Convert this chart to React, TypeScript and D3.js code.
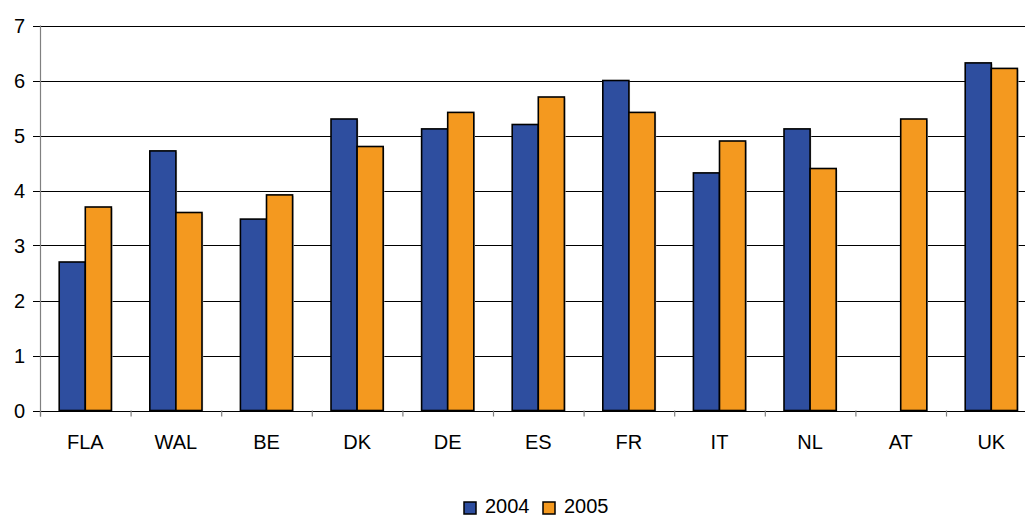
import React from "react";
import * as d3 from "d3";

const categories = ["FLA", "WAL", "BE", "DK", "DE", "ES", "FR", "IT", "NL", "AT", "UK"];
const series2004: (number | null)[] = [2.7, 4.72, 3.48, 5.3, 5.12, 5.2, 6.0, 4.32, 5.12, null, 6.32];
const series2005: (number | null)[] = [3.7, 3.6, 3.92, 4.8, 5.42, 5.7, 5.42, 4.9, 4.4, 5.3, 6.22];
const seriesNames = ["2004", "2005"];
const seriesColors = ["#2E4E9F", "#F4991F"];
const yTicks = [0, 1, 2, 3, 4, 5, 6, 7];

const W = 1025;
const H = 516;
const left = 40;
const right = 1036.6;
const top = 25.5;
const bottom = 410.5;
const font = "'Liberation Sans', Arial, sans-serif";

export default function App() {
  const x = d3.scaleBand<string>().domain(categories).range([left, right]).paddingInner(0).paddingOuter(0);
  const y = d3.scaleLinear().domain([0, 7]).range([bottom, top]);
  const bw = x.bandwidth() * 0.288;
  const allSeries = [series2004, series2005];

  return (
    <svg
      width={W}
      height={H}
      style={{ position: "absolute", left: 0, top: 0, background: "#fff" }}
      fontFamily={font}
    >
      {/* gridlines */}
      {yTicks.map((t) => (
        <line key={"g" + t} x1={left - 7} x2={W} y1={Math.round(y(t)) + 0.5} y2={Math.round(y(t)) + 0.5} stroke="#000" strokeWidth={1} />
      ))}
      {/* y labels */}
      {yTicks.map((t) => (
        <text key={"yl" + t} x={25} y={y(t)} dy="0.36em" textAnchor="end" fontSize={20} fill="#000">
          {t}
        </text>
      ))}
      {/* bars */}
      {categories.map((c, i) => {
        const cx = (x(c) as number) + x.bandwidth() / 2;
        return allSeries.map((s, si) => {
          const v = s[i];
          if (v == null) return null;
          const bx = cx - bw + si * bw;
          const by = y(v);
          return (
            <g key={c + si}>
              <rect x={bx + 1.2} y={by + 1.2} width={bw} height={y(0) - by} fill="#c8c8c8" />
              <rect x={bx} y={by} width={bw} height={y(0) - by} fill={seriesColors[si]} stroke="#000" strokeWidth={1.6} />
            </g>
          );
        });
      })}
      {/* axes */}
      <line x1={left} x2={W} y1={Math.round(y(0)) + 0.5} y2={Math.round(y(0)) + 0.5} stroke="#000" strokeWidth={1.2} />
      <line x1={left + 0.5} x2={left + 0.5} y1={top} y2={bottom + 6} stroke="#808080" strokeWidth={1.2} />
      {categories.map((c) => (
        <line key={"t" + c} x1={(x(c) as number) + 0.5} x2={(x(c) as number) + 0.5} y1={bottom} y2={bottom + 6} stroke="#808080" strokeWidth={1.2} />
      ))}
      {categories.map((c) => (
        <text key={"xl" + c} x={(x(c) as number) + x.bandwidth() / 2} y={449} textAnchor="middle" fontSize={20} fill="#000">
          {c}
        </text>
      ))}
      {/* legend */}
      {seriesNames.map((n, i) => {
        const lx = i === 0 ? 464 : 543;
        return (
          <g key={"lg" + n}>
            <rect x={lx} y={502} width={12} height={12} fill={seriesColors[i]} stroke="#000" strokeWidth={1.5} />
            <text x={lx + 21} y={513} fontSize={20} fill="#000">
              {n}
            </text>
          </g>
        );
      })}
    </svg>
  );
}
